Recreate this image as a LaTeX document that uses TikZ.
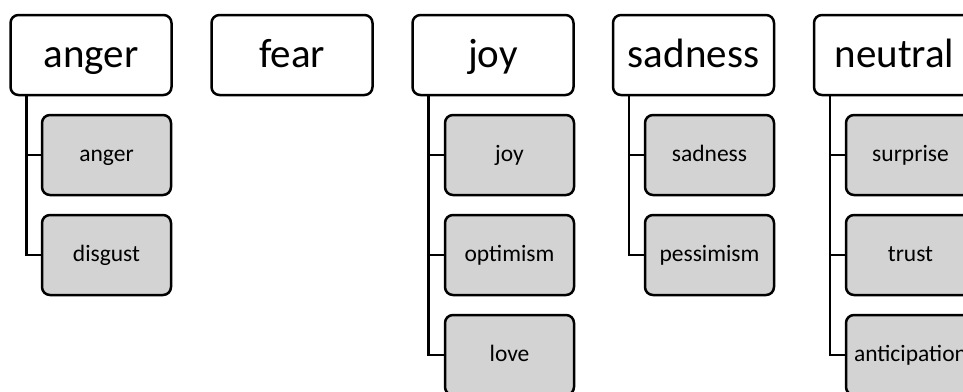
\documentclass[tikz,border=0pt]{standalone}
\usepackage{fontspec}
\setmainfont{Carlito}
\definecolor{leafgray}{RGB}{211,211,211}
\tikzset{
    emotion/.style={draw, line width=2.5pt, rounded corners=8pt, fill=white,
        minimum width=161pt, minimum height=80pt, inner sep=0pt,
        text height=30pt, text depth=6pt,
        font=\fontsize{41}{48}\selectfont},
    leaf/.style={draw, line width=2.5pt, rounded corners=8pt, fill=leafgray,
        minimum width=129pt, minimum height=80pt, inner sep=0pt,
        text height=17pt, text depth=3.5pt,
        font=\fontsize{23.5}{28}\selectfont},
    branch/.style={line width=2.5pt}
}
\begin{document}
\begin{tikzpicture}[x=1pt,y=-1pt]
    \useasboundingbox (0,0) rectangle (963,391);
    \clip (0,0) rectangle (963,391);
    % top row
    \node[emotion] (anger) at (91,55) {anger};
    \node[emotion] (fear) at (292,55) {fear};
    \node[emotion] (joy) at (493,55) {joy};
    \node[emotion] (sadness) at (693.5,55) {sadness};
    \node[emotion] (neutral) at (894.5,55) {neutral};
    % grouped labels
    \node[leaf] (anger-a) at (106.5,155) {anger};
    \node[leaf] (anger-b) at (106.5,255) {disgust};
    \node[leaf] (joy-a) at (509.5,155) {joy};
    \node[leaf] (joy-b) at (509.5,255) {optimism};
    \node[leaf] (joy-c) at (509.5,355) {love};
    \node[leaf] (sadness-a) at (709.5,155) {sadness};
    \node[leaf] (sadness-b) at (709.5,255) {pessimism};
    \node[leaf] (neutral-a) at (910.5,155) {surprise};
    \node[leaf] (neutral-b) at (910.5,255) {trust};
    \node[leaf] (neutral-c) at (910.5,355) {anticipation};
    % branches
    \draw[branch] ([xshift=17pt]anger.south west) |- (anger-a.west);
    \draw[branch] ([xshift=17pt]anger.south west) |- (anger-b.west);
    \draw[branch] ([xshift=17pt]joy.south west) |- (joy-a.west);
    \draw[branch] ([xshift=17pt]joy.south west) |- (joy-b.west);
    \draw[branch] ([xshift=17pt]joy.south west) |- (joy-c.west);
    \draw[branch] ([xshift=17pt]sadness.south west) |- (sadness-a.west);
    \draw[branch] ([xshift=17pt]sadness.south west) |- (sadness-b.west);
    \draw[branch] ([xshift=17pt]neutral.south west) |- (neutral-a.west);
    \draw[branch] ([xshift=17pt]neutral.south west) |- (neutral-b.west);
    \draw[branch] ([xshift=17pt]neutral.south west) |- (neutral-c.west);
\end{tikzpicture}
\end{document}
